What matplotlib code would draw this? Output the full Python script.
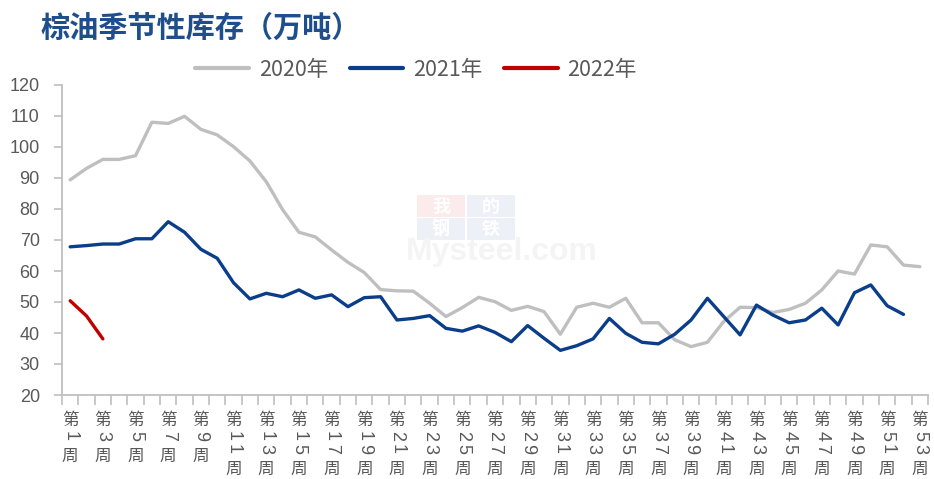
import matplotlib
matplotlib.use("Agg")
import matplotlib.pyplot as plt
from matplotlib.patches import Rectangle

# ---------------- data ----------------
weeks = list(range(1, 54))
week_labels = ["第%d周" % w for w in weeks]

y2020 = [89.4, 93.1, 96.0, 96.0, 97.2, 108.0, 107.6, 109.9, 105.7, 103.9,
         100.1, 95.5, 88.8, 79.8, 72.5, 71.0, 66.8, 62.8, 59.5, 54.0,
         53.6, 53.5, 49.6, 45.3, 48.2, 51.5, 50.1, 47.3, 48.6, 46.9,
         39.6, 48.3, 49.6, 48.3, 51.2, 43.3, 43.3, 37.8, 35.6, 37.0,
         43.7, 48.3, 48.2, 46.6, 47.6, 49.6, 53.9, 60.0, 59.0, 68.4,
         67.8, 61.9, 61.4]
y2021 = [67.8, 68.2, 68.7, 68.7, 70.4, 70.4, 75.9, 72.5, 67.0, 64.1,
         56.2, 51.0, 52.8, 51.7, 53.9, 51.2, 52.3, 48.5, 51.4, 51.7,
         44.2, 44.7, 45.6, 41.5, 40.6, 42.3, 40.2, 37.2, 42.4, 38.3,
         34.4, 35.9, 38.1, 44.7, 39.9, 37.0, 36.5, 39.6, 44.2, 51.2,
         45.3, 39.4, 49.0, 45.8, 43.3, 44.2, 48.0, 42.6, 53.0, 55.5,
         48.8, 46.0]
y2022 = [50.4, 45.5, 38.1]

series_names = ["2020年", "2021年", "2022年"]
series_colors = ["#BFBFBF", "#0A3D8A", "#C00000"]
y_ticks = [20, 30, 40, 50, 60, 70, 80, 90, 100, 110, 120]
title = "棕油季节性库存（万吨）"

# ---------------- figure ----------------
W, H = 934, 479
fig = plt.figure(figsize=(W / 100, H / 100), dpi=100)
ax = fig.add_axes([62 / W, 1 - 395 / H, (928 - 62) / W, (395 - 85) / H])

cjk = ["Noto Sans CJK SC", "DejaVu Sans"]
txt_color = "#595959"
axis_color = "#BFBFBF"

# watermark
wm_boxes = [(417, 195, "我", "#F9D9D9"), (467, 195, "的", "#DDE3F0"),
            (417, 218, "钢", "#DDE3F0"), (467, 218, "铁", "#DDE3F0")]
for bx, by, ch, col in wm_boxes:
    fig.patches.append(Rectangle((bx / W, 1 - (by + 22) / H), 48 / W, 22 / H,
                                 transform=fig.transFigure, facecolor=col,
                                 edgecolor="none", alpha=0.5, zorder=0))
    fig.text((bx + 24) / W, 1 - (by + 11) / H, ch, family=cjk, fontsize=13,
             color="white", ha="center", va="center", weight="bold", zorder=0)
fig.text(502 / W, 1 - 252 / H, "Mysteel.com", family=["Liberation Sans"],
         fontsize=23, weight="bold", color="#F4F4F4", ha="center",
         va="center", zorder=0)
ax.patch.set_alpha(0)

# lines
for vals, name, col in zip([y2020, y2021, y2022], series_names, series_colors):
    ax.plot(weeks[:len(vals)], vals, color=col, lw=2.4, label=name,
            solid_capstyle="round", solid_joinstyle="round", zorder=3)

ax.set_xlim(0.5, 53.5)
ax.set_ylim(20, 120)

# spines
for s in ["top", "right"]:
    ax.spines[s].set_visible(False)
for s in ["left", "bottom"]:
    ax.spines[s].set_color(axis_color)
    ax.spines[s].set_linewidth(1.3)

ax.set_yticks(y_ticks)
ax.set_yticklabels([str(v) for v in y_ticks], family=["Liberation Sans"],
                   fontsize=13, color=txt_color)
ax.tick_params(axis="y", length=6, width=1.2, color=axis_color, pad=10)

# x ticks at category boundaries
ax.set_xticks([w + 0.5 for w in [0] + weeks])
ax.set_xticklabels([])
ax.tick_params(axis="x", length=7, width=1.2, color=axis_color)

# vertical stacked x labels every 2 weeks
xt = ax.get_xaxis_transform()
for w, lab in zip(weeks, week_labels):
    if (w - 1) % 2:
        continue
    num = lab[1:-1]
    ax.annotate("第", xy=(w, 0), xycoords=xt, xytext=(0, -25 * 0.72),
                textcoords="offset points", ha="center", va="center",
                family=cjk, fontsize=12, color=txt_color)
    off = 41
    for d in num:
        ax.annotate(d, xy=(w, 0), xycoords=xt, xytext=(0, -off * 0.72),
                    textcoords="offset points", ha="center", va="center",
                    family=["Liberation Sans"], fontsize=13,
                    color=txt_color, rotation=-90)
        off += 13
    ax.annotate("周", xy=(w, 0), xycoords=xt,
                xytext=(0, -(off + 7) * 0.72), textcoords="offset points",
                ha="center", va="center", family=cjk, fontsize=12,
                color=txt_color)

# legend
leg = fig.legend(loc="center", bbox_to_anchor=(416 / W, 1 - 70 / H), ncol=3,
                 frameon=False, handlelength=2.5, handletextpad=0.45,
                 columnspacing=1.0, prop={"family": cjk, "size": 15.5})
for t in leg.get_texts():
    t.set_color(txt_color)
for l in leg.get_lines():
    l.set_linewidth(3)

# title
fig.text(41 / W, 1 - 28 / H, title, family=cjk, fontsize=21, weight="bold",
         color="#1F4E8C", ha="left", va="center")

fig.savefig("out.png", dpi=100)
